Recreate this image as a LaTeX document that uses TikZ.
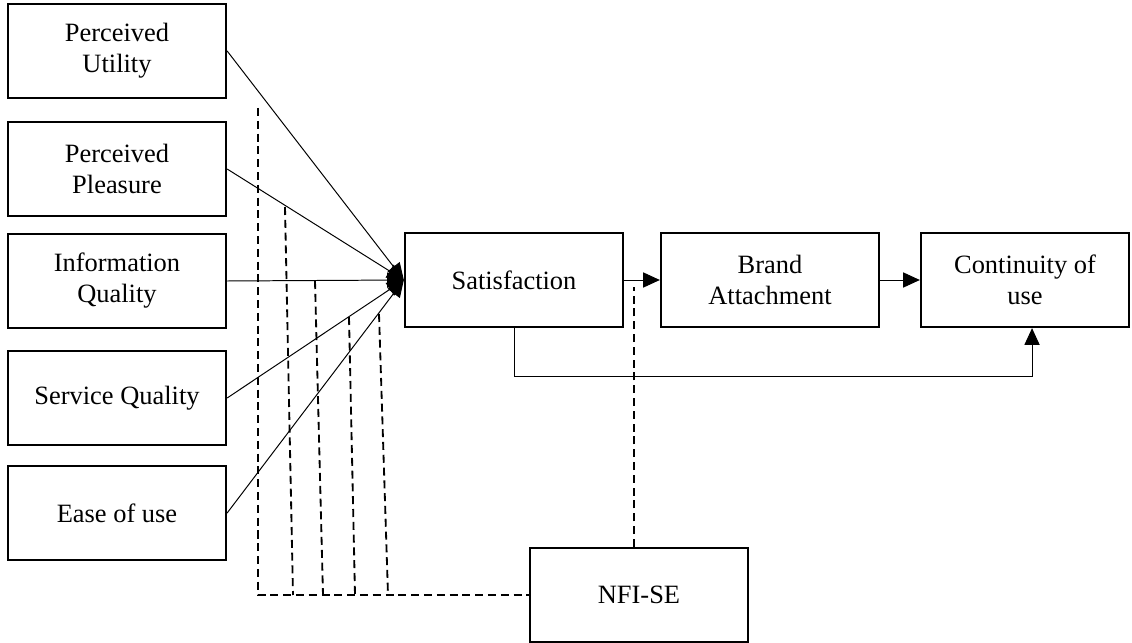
\documentclass[tikz,border=0pt]{standalone}
\usepackage{fontspec}
\setmainfont{Liberation Serif}
\usetikzlibrary{arrows.meta}

\begin{document}
\begin{tikzpicture}[x=0.025cm,y=-0.025cm,
  box/.style={draw,line width=1.6pt,minimum width=5.45cm,minimum height=2.35cm,inner sep=0pt,align=center,font=\fontsize{18.8}{22}\selectfont},
  link/.style={line width=0.7pt,-{Triangle[length=0.42cm,width=0.38cm]}},
  modline/.style={line width=1.3pt,dash pattern=on 0.2cm off 0.12cm}]
\useasboundingbox (0,0) rectangle (1132,643);
\node[box] (pu) at (117,51) {Perceived\\Utility};
\node[box] (pp) at (117,169) {Perceived\\Pleasure};
\node[box] (iq) at (117,281) {Information\\Quality};
\node[box] (sq) at (117,398) {Service Quality};
\node[box] (eu) at (117,513) {Ease of use};
\node[box] (sat) at (514,280) {Satisfaction};
\node[box] (ba) at (770,280) {Brand\\Attachment};
\node[box,minimum width=5.2cm] (cont) at (1025,280) {Continuity of\\use};
\node[box] (nfi) at (639,595) {NFI-SE};
\draw[link] (pu.east)--(sat.west);
\draw[link] (pp.east)--(sat.west);
\draw[link] (iq.east)--(sat.west);
\draw[link] (sq.east)--(sat.west);
\draw[link] (eu.east)--(sat.west);
\draw[link] (sat.east)--(ba.west);
\draw[link] (ba.east)--(cont.west);
\draw[link] (sat.south)--++(0,48)-|([xshift=5]cont.south);
\coordinate (m1) at (258,108);
\coordinate (m2) at (285,207);
\coordinate (m3) at (315,281);
\coordinate (m4) at (349,317);
\coordinate (m5) at (379,314);
\coordinate (b1) at (258,595);
\coordinate (b2) at (293,595);
\coordinate (b3) at (323,595);
\coordinate (b4) at (355,595);
\coordinate (b5) at (388,595);
\coordinate (s1) at (634,287);
\draw[modline] (m1)--(b1)--(nfi.west);
\foreach \i in {2,...,5}
  \draw[modline] (m\i)--(b\i);
\draw[modline] (nfi.north-|s1)--(s1);
\end{tikzpicture}
\end{document}
